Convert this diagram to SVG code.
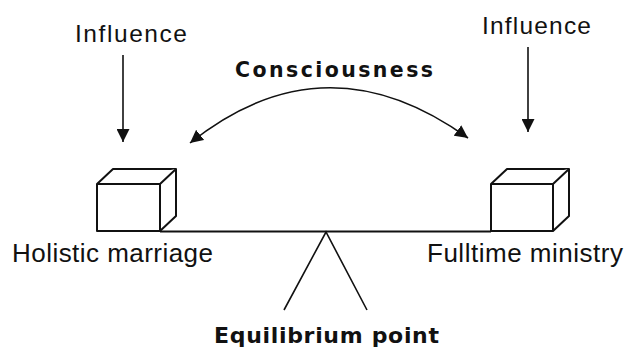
<svg xmlns="http://www.w3.org/2000/svg" width="626" height="350" viewBox="0 0 626 350">
<style>
.t{font-family:"Liberation Sans",Arial,sans-serif;fill:#111;}
.b{font-family:"DejaVu Sans",Verdana,sans-serif;font-weight:bold;fill:#111;}
.ln{stroke:#111;stroke-width:1.6;fill:none;}
.cube{stroke:#111;stroke-width:2;fill:#fff;stroke-linejoin:round;}
</style>
<defs>
<marker id="ah" markerUnits="userSpaceOnUse" markerWidth="14" markerHeight="13" refX="13" refY="6.5" orient="auto-start-reverse" viewBox="0 0 14 13">
<path d="M0,0 L13,6.5 L0,13 z" fill="#111"/>
</marker>
</defs>
<rect width="626" height="350" fill="#fff"/>
<g id="connectors">
<line class="ln" x1="123" y1="55" x2="123" y2="142" marker-end="url(#ah)"/>
<line class="ln" x1="528" y1="47" x2="528" y2="132" marker-end="url(#ah)"/>
<path class="ln" d="M190,143 Q325,35 468,138" marker-start="url(#ah)" marker-end="url(#ah)"/>
</g>
<g id="beam">
<line x1="160" y1="231.5" x2="491" y2="231.5" stroke="#111" stroke-width="2"/>
<polyline class="ln" points="284,310 326,232 367,310"/>
</g>
<g id="cube-left">
<path class="cube" d="M97,184 L113,169 L176,169 L176,216 L160,231 L97,231 Z"/>
<path class="cube" d="M97,184 L160,184 L176,169 M160,184 L160,231"/>
</g>
<g id="cube-right">
<path class="cube" d="M491,184 L507,169 L569,169 L569,216 L553,231 L491,231 Z"/>
<path class="cube" d="M491,184 L553,184 L569,169 M553,184 L553,231"/>
</g>
<g id="labels">
<text class="t" x="75" y="42" font-size="24.5" textLength="112" lengthAdjust="spacing">Influence</text>
<text class="t" x="482" y="34" font-size="24.5" textLength="109" lengthAdjust="spacing">Influence</text>
<text class="b" x="235" y="77" font-size="20.5" textLength="198" lengthAdjust="spacing">Consciousness</text>
<text class="t" x="12" y="262" font-size="26" textLength="201" lengthAdjust="spacing">Holistic marriage</text>
<text class="t" x="427" y="262" font-size="26" textLength="196" lengthAdjust="spacing">Fulltime ministry</text>
<text class="b" x="214" y="343" font-size="22" textLength="225" lengthAdjust="spacing">Equilibrium point</text>
</g>
</svg>
